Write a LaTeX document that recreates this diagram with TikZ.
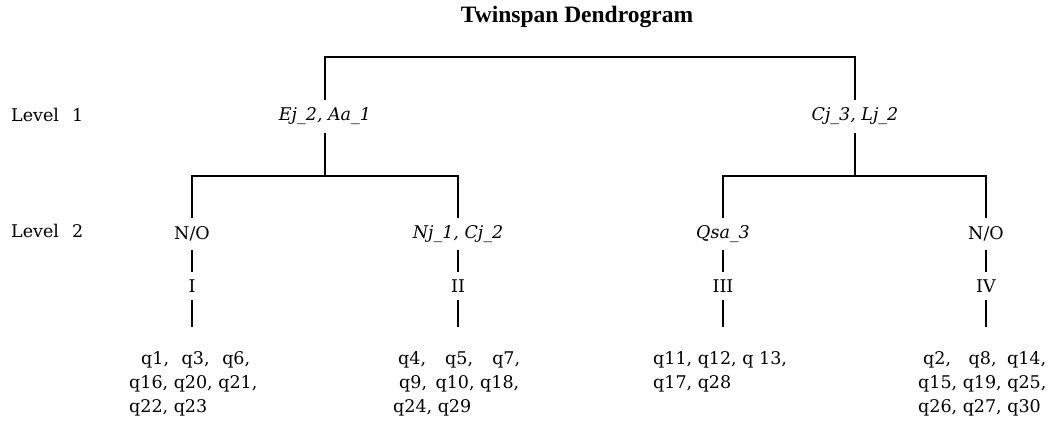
\documentclass[tikz,border=0pt]{standalone}
\usepackage{fontspec}
\setmainfont{DejaVu Serif}
\newfontfamily\headfont{Liberation Serif}
\begin{document}
\begin{tikzpicture}[x=1pt,y=-1pt,
  branch/.style={line width=2.8pt, line join=miter},
  txt/.style={inner sep=0pt, font=\fontsize{17.5}{21}\selectfont},
  spl/.style={txt, font=\fontsize{17.5}{21}\selectfont\itshape},
  split/.style={spl, minimum height=33pt},
  group/.style={txt, minimum height=32pt},
  roman/.style={txt, minimum height=28pt},
  member/.style={txt, anchor=base west},
  level/.style={txt, anchor=base west}]
\useasboundingbox (0,0) rectangle (1059,428);
\fill[white] (0,0) rectangle (1059,428);

% title
\node[txt, anchor=base, font=\headfont\fontsize{23.5}{26}\selectfont\bfseries] (title) at (577,23) {Twinspan Dendrogram};

% level captions
\node[level] (lev1) at (11,121) {Level\hspace{13pt}1};
\node[level] (lev2) at (11,237) {Level\hspace{13pt}2};

% first division
\node[split] (n1) at (325,116.5) {Ej\_2, Aa\_1};
\node[split] (n2) at (855,116.5) {Cj\_3, Lj\_2};

% second division
\node[group] (a) at (192,234) {N/O};
\node[group, spl, minimum height=32pt] (b) at (458,234) {Nj\_1, Cj\_2};
\node[group, spl, minimum height=32pt] (c) at (723,234) {Qsa\_3};
\node[group] (d) at (986,234) {N/O};

% final groups
\node[roman] (r1) at (192,286) {I};
\node[roman] (r2) at (458,286) {II};
\node[roman] (r3) at (723,286) {III};
\node[roman] (r4) at (986,286) {IV};

\coordinate (root) at (590,57);
\coordinate (j1) at (325,176);
\coordinate (j2) at (855,176);
\coordinate (e1) at (192,327);
\coordinate (e2) at (458,327);
\coordinate (e3) at (723,327);
\coordinate (e4) at (986,327);

% tree
\draw[branch] (n1.north) |- (root) -| (n2.north);
\draw[branch] (n1.south) -- (j1);
\draw[branch] (n2.south) -- (j2);
\draw[branch] (a.north) |- (j1) -| (b.north);
\draw[branch] (c.north) |- (j2) -| (d.north);
\draw[branch] (a.south) -- (r1.north);
\draw[branch] (b.south) -- (r2.north);
\draw[branch] (c.south) -- (r3.north);
\draw[branch] (d.south) -- (r4.north);
\draw[branch] (r1.south) -- (e1);
\draw[branch] (r2.south) -- (e2);
\draw[branch] (r3.south) -- (e3);
\draw[branch] (r4.south) -- (e4);

% members of each group
\node[member] (m1a) at (141,364) {\hbox to 109pt{q1,\hfill q3,\hfill q6,}};
\node[member] (m1b) at (129,388) {q16, q20, q21,};
\node[member] (m1c) at (129,412) {q22, q23};

\node[member] (m2a) at (398,364) {\hbox to 122pt{q4,\hfill q5,\hfill q7,}};
\node[member] (m2b) at (399,388) {q9,\hspace{3pt} q10, q18,};
\node[member] (m2c) at (393,412) {q24, q29};

\node[member] (m3a) at (653,364) {q11, q12, q 13,};
\node[member] (m3b) at (653,388) {q17, q28};

\node[member] (m4a) at (923,364) {\hbox to 123pt{q2,\hfill q8,\hspace{5pt} q14,}};
\node[member] (m4b) at (918,388) {q15, q19, q25,};
\node[member] (m4c) at (918,412) {q26, q27, q30};
\end{tikzpicture}
\end{document}
